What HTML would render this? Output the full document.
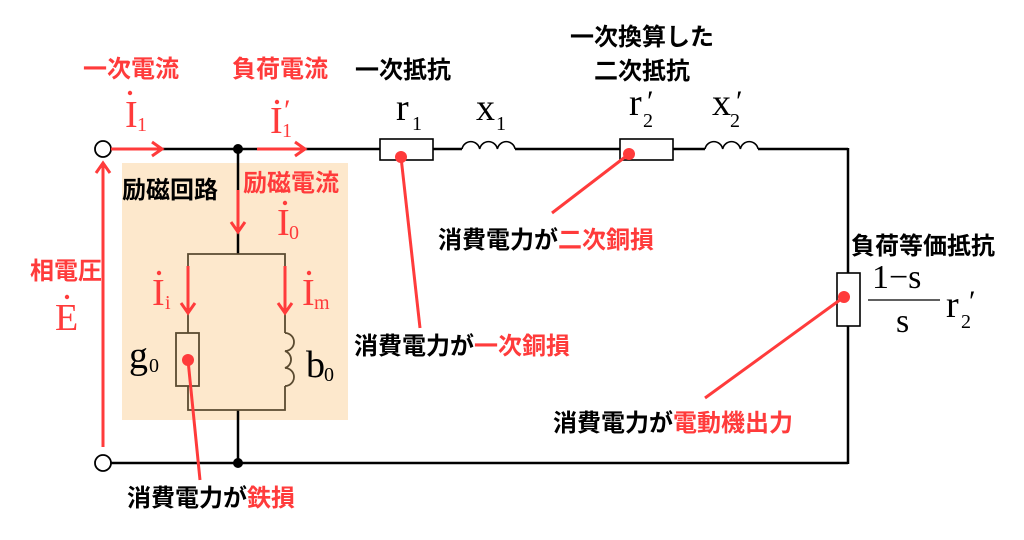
<!DOCTYPE html>
<html><head><meta charset="utf-8"><style>
html,body{margin:0;padding:0;background:#fff}
svg{display:block}
.j{font-family:"Liberation Sans","Noto Sans CJK JP",sans-serif;font-weight:bold;font-size:24px}
.m{font-family:"Liberation Serif","DejaVu Serif",serif;font-size:38px}
.s{font-family:"Liberation Serif","DejaVu Serif",serif;font-size:20px}
.p{font-family:"Liberation Serif","DejaVu Serif",serif;font-size:30px}
</style></head><body>
<svg width="1024" height="540" viewBox="0 0 1024 540" xmlns="http://www.w3.org/2000/svg">
<rect x="122" y="163" width="226" height="257" fill="#fde8cc"/>
<g stroke="#000" stroke-width="2.5" fill="none">
<line x1="111" y1="149" x2="380" y2="149"/>
<line x1="433" y1="149" x2="462" y2="149"/>
<line x1="515" y1="149" x2="620" y2="149"/>
<line x1="673" y1="149" x2="705" y2="149"/>
<line x1="758" y1="149" x2="848" y2="149"/>
<line x1="848" y1="148" x2="848" y2="273"/>
<line x1="848" y1="326" x2="848" y2="464"/>
<line x1="111" y1="463" x2="848" y2="463"/>
<line x1="238" y1="149" x2="238" y2="254"/>
<line x1="238" y1="410" x2="238" y2="463"/>
</g>
<g stroke="#5a4a30" stroke-width="1.8" fill="none">
<polyline points="188,333 188,254 285,254 285,333"/>
<polyline points="188,386 188,410 285,410 285,386"/>
<rect x="176" y="333" width="23" height="53"/>
<path d="M285,333 a9,9 0 0 1 0,18 a9,9 0 0 1 0,17 a9,9 0 0 1 0,18"/>
</g>
<g stroke="#000" stroke-width="1.6" fill="#fff">
<rect x="380" y="139" width="53" height="21"/>
<rect x="620" y="139" width="53" height="21"/>
<rect x="837" y="273" width="23" height="53"/>
</g>
<g stroke="#000" stroke-width="1.6" fill="none">
<path d="M462,149 a9,9 0 0 1 17.7,0 a9,9 0 0 1 17.7,0 a9,9 0 0 1 17.7,0"/>
<path d="M705,149 a9,9 0 0 1 17.7,0 a9,9 0 0 1 17.7,0 a9,9 0 0 1 17.7,0"/>
</g>
<circle cx="103" cy="149" r="8" fill="#fff" stroke="#000" stroke-width="1.8"/>
<circle cx="103" cy="463" r="8" fill="#fff" stroke="#000" stroke-width="1.8"/>
<circle cx="238" cy="149" r="5" fill="#000"/>
<circle cx="238" cy="463" r="5" fill="#000"/>
<g stroke="#ff3b3b" stroke-width="3" fill="none">
<line x1="111" y1="149" x2="162" y2="149"/><polyline points="152,142 162,149 152,156"/>
<line x1="257" y1="149" x2="305" y2="149"/><polyline points="295,142 305,149 295,156"/>
<line x1="238" y1="190" x2="238" y2="232"/><polyline points="231,222 238,232 245,222"/>
<line x1="188" y1="266" x2="188" y2="313"/><polyline points="181,303 188,313 195,303"/>
<line x1="285" y1="266" x2="285" y2="313"/><polyline points="278,303 285,313 292,303"/>
<line x1="103" y1="447" x2="103" y2="163"/><polyline points="96,173 103,163 110,173"/>
<line x1="401" y1="157" x2="420" y2="328"/>
<line x1="629" y1="154" x2="552" y2="213"/>
<line x1="844" y1="297" x2="705" y2="398"/>
<line x1="188" y1="360" x2="200" y2="480"/>
</g>
<g fill="#ff3b3b">
<circle cx="401" cy="157" r="6"/><circle cx="629" cy="154" r="6"/>
<circle cx="844" cy="297" r="6"/><circle cx="188" cy="360" r="6"/>
</g>
<g class="j">
<text x="83" y="77" fill="#ff3b3b">一次電流</text>
<text x="232" y="77" fill="#ff3b3b">負荷電流</text>
<text x="355" y="78">一次抵抗</text>
<text x="570" y="45">一次換算した</text>
<text x="594" y="79">二次抵抗</text>
<text x="122" y="198">励磁回路</text>
<text x="243" y="191" fill="#ff3b3b">励磁電流</text>
<text x="30" y="279" fill="#ff3b3b">相電圧</text>
<text x="851" y="254">負荷等価抵抗</text>
<text x="438" y="248">消費電力が<tspan fill="#ff3b3b">二次銅損</tspan></text>
<text x="354" y="354">消費電力が<tspan fill="#ff3b3b">一次銅損</tspan></text>
<text x="553" y="431">消費電力が<tspan fill="#ff3b3b">電動機出力</tspan></text>
<text x="127" y="506">消費電力が<tspan fill="#ff3b3b">鉄損</tspan></text>
</g>
<g fill="#ff3b3b">
<text class="m" x="125" y="127">I</text><text class="s" x="137" y="131">1</text><circle cx="130" cy="93" r="2.2"/>
<text class="m" x="270" y="133">I</text><text class="s" x="282" y="137">1</text><text class="p" x="284" y="120">′</text><circle cx="277" cy="102" r="2.2"/>
<text class="m" x="277" y="235">I</text><text class="s" x="289" y="239">0</text><circle cx="285" cy="203" r="2.2"/>
<text class="m" x="152" y="305">I</text><text class="s" x="165" y="309">i</text><circle cx="159" cy="273" r="2.2"/>
<text class="m" x="302" y="305">I</text><text class="s" x="314" y="309">m</text><circle cx="309" cy="273" r="2.2"/>
<text class="m" x="55" y="330">E</text><circle cx="67" cy="297" r="2.2"/>
</g>
<g fill="#000">
<text class="m" x="396" y="120">r</text><text class="s" x="412" y="130">1</text>
<text class="m" x="476" y="120">x</text><text class="s" x="496" y="130">1</text>
<text class="m" x="629" y="115">r</text><text class="s" x="643" y="127">2</text><text class="p" x="647" y="111">′</text>
<text class="m" x="712" y="115">x</text><text class="s" x="730" y="127">2</text><text class="p" x="736" y="111">′</text>
<text class="m" x="129" y="368">g</text><text class="s" x="149" y="372">0</text>
<text class="m" x="306" y="377">b</text><text class="s" x="324" y="381">0</text>
<text class="m" x="872" y="288" style="font-size:34px">1−s</text>
<line x1="868" y1="300" x2="940" y2="300" stroke="#000" stroke-width="1.3"/>
<text class="m" x="896" y="332" style="font-size:34px">s</text>
<text class="m" x="946" y="317">r</text><text class="s" x="961" y="328">2</text><text class="p" x="969" y="311">′</text>
</g>
</svg>
</body></html>
